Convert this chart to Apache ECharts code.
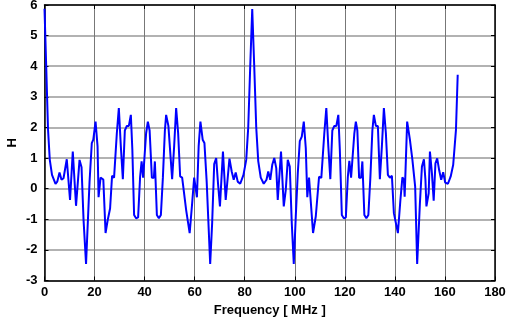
<!DOCTYPE html>
<html>
<head>
<meta charset="utf-8">
<script src="https://cdn.jsdelivr.net/npm/echarts@6/dist/echarts.min.js"></script>
<style>html,body{margin:0;padding:0;background:#fff}#c{width:507px;height:322px}</style>
</head>
<body>
<div id="c"></div>
<script>
const freq = [0,0.7,1.4,2.1,3.0,4.4,5.1,6.0,6.8,7.6,8.9,10.2,11.3,12.6,14.0,14.8,15.6,16.6,18.0,18.9,19.5,20.4,21.2,21.6,22.4,23.5,24.4,25.2,26.2,27.0,27.8,28.9,29.7,30.5,31.3,32.1,32.9,33.7,34.5,35.1,35.8,36.6,37.4,38.2,38.8,39.4,39.9,40.6,41.3,42.0,42.9,43.7,44.1,44.9,45.7,46.5,47.3,48.1,48.6,49.5,50.2,51.0,51.8,52.6,53.4,54.2,55.0,55.6,56.6,58.0,59.0,59.8,60.4,60.9,61.6,62.3,63.2,63.9,64.8,66.2,67.0,67.8,68.6,69.3,70.1,71.3,72.4,73.9,74.8,75.6,76.4,77.2,78.2,79.5,80.6,81.4,82.2,83.0,83.8,84.6,85.4,86.4,87.6,88.7,89.4,90.2,91.0,91.8,92.6,93.2,94.5,95.6,96.4,97.2,98.0,98.8,99.6,100.4,101.2,102.0,102.8,103.6,104.4,105.0,105.7,106.4,107.3,108.4,109.7,110.6,111.8,112.6,113.4,114.2,115.0,115.8,116.6,117.4,118.0,118.8,119.6,120.4,121.2,121.8,122.5,123.0,123.8,124.4,125.0,125.7,126.5,127.0,127.8,128.6,129.4,130.2,131.0,131.6,132.4,133.2,134.0,134.8,135.6,136.4,137.2,138.0,138.8,139.6,141.2,142.2,143.0,143.6,143.9,144.9,146.0,147.0,148.1,148.9,150.0,150.8,151.6,152.2,152.6,153.5,154.0,154.8,155.5,156.2,156.9,157.7,158.5,159.3,160.1,161.2,162.3,163.3,164.4,165.1];
const hValues = [5.88,3.95,1.95,0.95,0.45,0.16,0.23,0.53,0.29,0.34,0.96,-0.37,1.21,-0.56,0.94,0.7,-1.02,-2.46,0.23,1.49,1.6,2.19,1.38,-0.28,0.36,0.3,-1.45,-1.05,-0.65,0.42,0.36,1.81,2.63,1.38,0.31,1.9,2.05,2.05,2.41,1.27,-0.86,-0.97,-0.94,0.39,0.89,0.36,0.38,1.81,2.19,1.9,0.36,0.36,0.89,-0.86,-0.97,-0.86,0.36,1.9,2.41,2.05,2.05,0.31,1.38,2.63,1.81,0.4,0.36,0.4,-0.7,-1.45,-0.47,0.36,0.3,-0.28,1.4,2.19,1.6,1.49,0.23,-2.46,-1.1,0.8,1.0,0.2,-0.58,1.21,-0.37,0.98,0.56,0.29,0.53,0.23,0.16,0.45,0.94,2.0,4.0,5.87,4.0,2.0,0.9,0.36,0.16,0.29,0.56,0.29,0.78,1.0,0.67,-0.37,1.21,-0.58,-0.04,0.94,0.72,-1.13,-2.46,-0.9,0.5,1.55,1.7,2.19,1.32,-0.28,0.36,0.3,-1.45,-0.9,0.39,0.35,1.81,2.63,1.38,0.31,1.9,2.05,2.05,2.41,1.27,-0.86,-0.97,-0.94,0.39,0.91,0.36,0.38,1.81,2.19,1.9,0.36,0.36,0.89,-0.86,-0.97,-0.86,0.36,1.9,2.41,2.05,2.05,0.31,1.38,2.63,1.81,0.45,0.36,0.42,-0.8,-1.45,-0.37,0.37,0.29,-0.26,2.19,1.6,0.94,0.07,-2.46,-0.47,0.72,0.96,0.29,-0.58,-0.15,1.21,0.5,-0.39,0.83,0.99,0.6,0.29,0.54,0.2,0.16,0.4,0.78,1.92,3.72];
const xTicks = [0,20,40,60,80,100,120,140,160,180];
const yTicks = [-3,-2,-1,0,1,2,3,4,5,6];

const font = {fontFamily:'Liberation Sans, Arial, sans-serif', fontWeight:'bold', fontSize:13, color:'#000'};
const chart = echarts.init(document.getElementById('c'), null, {renderer:'canvas'});
const pts = freq.map((f,i)=>[f,hValues[i]]);
chart.setOption({
  animation:false,
  grid:{left:44.5,right:12,top:5,bottom:41.5,containLabel:false,outerBoundsMode:'none'},
  xAxis:[{
    type:'value',min:xTicks[0],max:xTicks[xTicks.length-1],interval:20,position:'bottom',
    name:'Frequency [ MHz ]',nameLocation:'middle',nameGap:23,nameTextStyle:font,nameMoveOverlap:false,
    axisLine:{onZero:false,lineStyle:{color:'#000',width:1.5}},
    axisTick:{inside:true,length:4,lineStyle:{color:'#000'}},
    axisLabel:Object.assign({margin:5},font),
    splitLine:{show:true,lineStyle:{color:'#777',width:1}}
  },{
    type:'value',min:0,max:180,interval:20,position:'top',
    axisLine:{onZero:false,lineStyle:{color:'#000',width:1.5}},
    axisTick:{inside:true,length:4,lineStyle:{color:'#000'}},
    axisLabel:{show:false},splitLine:{show:false}
  }],
  yAxis:[{
    type:'value',min:yTicks[0],max:yTicks[yTicks.length-1],interval:1,position:'left',
    name:'H',nameLocation:'middle',nameGap:26,nameRotate:90,nameTextStyle:font,nameMoveOverlap:false,
    axisLine:{onZero:false,lineStyle:{color:'#000',width:1.5}},
    axisTick:{inside:true,length:4,lineStyle:{color:'#000'}},
    axisLabel:Object.assign({margin:7},font),
    splitLine:{show:true,lineStyle:{color:'#999',width:1.5}}
  },{
    type:'value',min:-3,max:6,interval:1,position:'right',
    axisLine:{onZero:false,lineStyle:{color:'#000',width:1.5}},
    axisTick:{inside:true,length:4,lineStyle:{color:'#000'}},
    axisLabel:{show:false},splitLine:{show:false}
  }],
  series:[{
    type:'line',data:pts,showSymbol:false,symbol:'none',
    lineStyle:{color:'#0000ff',width:2},xAxisIndex:0,yAxisIndex:0
  }]
});
</script>
</body>
</html>
